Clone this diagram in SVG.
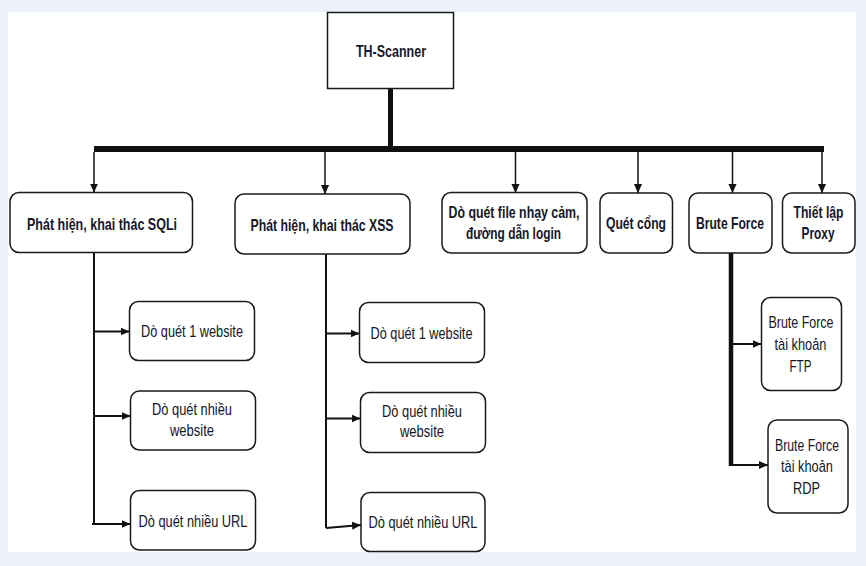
<svg xmlns="http://www.w3.org/2000/svg" width="866" height="566" viewBox="0 0 866 566">
<style>
.box{fill:#fff;stroke:#1a1a1a;stroke-width:1.5}
.t{font-family:"Liberation Sans",Arial,sans-serif;font-size:17px;fill:#161628;text-anchor:middle}
.b{font-weight:bold}
.c{fill:none;stroke:#111;stroke-width:1.5}
.c2{fill:none;stroke:#111;stroke-width:2}
</style>
<defs>
<marker id="ah" markerUnits="userSpaceOnUse" viewBox="0 0 10 10" markerWidth="9" markerHeight="10" refX="10" refY="5" orient="auto">
<path d="M0,0.5 L10,5 L0,9.5 z" fill="#111"/>
</marker>
</defs>
<rect x="0" y="0" width="866" height="566" fill="#edf1f9"/>
<rect x="8" y="12" width="848" height="540" fill="#fff"/>

<g id="connectors">
<line x1="390.5" y1="88" x2="390.5" y2="149" stroke="#111" stroke-width="5"/>
<line x1="94" y1="149" x2="824" y2="149" stroke="#111" stroke-width="6"/>
<line class="c" x1="94" y1="152" x2="94" y2="192.5" marker-end="url(#ah)"/>
<line class="c" x1="325" y1="152" x2="325" y2="194" marker-end="url(#ah)"/>
<line class="c" x1="515.5" y1="152" x2="515.5" y2="193" marker-end="url(#ah)"/>
<line class="c" x1="638" y1="152" x2="638" y2="193" marker-end="url(#ah)"/>
<line class="c" x1="732.5" y1="152" x2="732.5" y2="193" marker-end="url(#ah)"/>
<line class="c" x1="822" y1="152" x2="822" y2="193" marker-end="url(#ah)"/>
<line class="c2" x1="94" y1="252.5" x2="94" y2="525"/>
<line class="c2" x1="94" y1="331.5" x2="129.5" y2="331.5" marker-end="url(#ah)"/>
<line class="c2" x1="94" y1="416" x2="130.5" y2="416" marker-end="url(#ah)"/>
<line class="c2" x1="92" y1="524" x2="130.5" y2="524" marker-end="url(#ah)"/>
<line class="c2" x1="326" y1="254" x2="326" y2="528"/>
<line class="c2" x1="326" y1="333.5" x2="359.5" y2="333.5" marker-end="url(#ah)"/>
<line class="c2" x1="326" y1="418.5" x2="360.5" y2="418.5" marker-end="url(#ah)"/>
<line class="c2" x1="326" y1="528" x2="361" y2="525" marker-end="url(#ah)"/>
<line x1="731" y1="253" x2="731" y2="466" stroke="#111" stroke-width="4.5"/>
<line class="c2" x1="731" y1="344" x2="761.5" y2="344" marker-end="url(#ah)"/>
<line class="c2" x1="731" y1="465" x2="768" y2="465" marker-end="url(#ah)"/>
</g>

<g id="root">
<rect class="box" x="327.5" y="12.5" width="126" height="76"/>
<text class="t b" x="391" y="57" textLength="70" lengthAdjust="spacingAndGlyphs">TH-Scanner</text>
</g>

<g id="sqli">
<rect class="box" x="10" y="192.5" width="182.5" height="60" rx="9"/>
<text class="t b" x="102" y="230" textLength="150" lengthAdjust="spacingAndGlyphs">Phát hiện, khai thác SQLi</text>
</g>
<g id="xss">
<rect class="box" x="235" y="194" width="175" height="60" rx="9"/>
<text class="t b" x="322" y="231" textLength="143" lengthAdjust="spacingAndGlyphs">Phát hiện, khai thác XSS</text>
</g>
<g id="file">
<rect class="box" x="442" y="192.5" width="145" height="60.5" rx="9"/>
<text class="t b" x="514" y="218" textLength="131" lengthAdjust="spacingAndGlyphs">Dò quét file nhạy cảm,</text>
<text class="t b" x="513.5" y="238.5" textLength="95" lengthAdjust="spacingAndGlyphs">đường dẫn login</text>
</g>
<g id="port">
<rect class="box" x="600" y="193" width="72.5" height="60" rx="9"/>
<text class="t b" x="636" y="228.5" textLength="60" lengthAdjust="spacingAndGlyphs">Quét cổng</text>
</g>
<g id="brute">
<rect class="box" x="689" y="193" width="83" height="60" rx="9"/>
<text class="t b" x="730" y="228.5" textLength="68" lengthAdjust="spacingAndGlyphs">Brute Force</text>
</g>
<g id="proxy">
<rect class="box" x="782.5" y="193" width="72.5" height="60" rx="9"/>
<text class="t b" x="818.5" y="218" textLength="50" lengthAdjust="spacingAndGlyphs">Thiết lập</text>
<text class="t b" x="818" y="238.5" textLength="33" lengthAdjust="spacingAndGlyphs">Proxy</text>
</g>

<g id="sqli-1">
<rect class="box" x="129.5" y="301.5" width="125" height="59" rx="9"/>
<text class="t" x="192" y="337" textLength="102" lengthAdjust="spacingAndGlyphs">Dò quét 1 website</text>
</g>
<g id="sqli-2">
<rect class="box" x="130.5" y="391" width="125" height="59" rx="9"/>
<text class="t" x="192" y="415" textLength="80" lengthAdjust="spacingAndGlyphs">Dò quét nhiều</text>
<text class="t" x="192" y="435.5" textLength="44" lengthAdjust="spacingAndGlyphs">website</text>
</g>
<g id="sqli-3">
<rect class="box" x="130.5" y="490.5" width="125" height="59.5" rx="9"/>
<text class="t" x="193" y="526.5" textLength="109" lengthAdjust="spacingAndGlyphs">Dò quét nhiều URL</text>
</g>

<g id="xss-1">
<rect class="box" x="359.5" y="302.5" width="125" height="60" rx="9"/>
<text class="t" x="421.5" y="339" textLength="102" lengthAdjust="spacingAndGlyphs">Dò quét 1 website</text>
</g>
<g id="xss-2">
<rect class="box" x="360.5" y="392.5" width="125" height="60" rx="9"/>
<text class="t" x="422" y="416.5" textLength="80" lengthAdjust="spacingAndGlyphs">Dò quét nhiều</text>
<text class="t" x="422" y="437" textLength="44" lengthAdjust="spacingAndGlyphs">website</text>
</g>
<g id="xss-3">
<rect class="box" x="361" y="492.5" width="124" height="59" rx="9"/>
<text class="t" x="423" y="528" textLength="109" lengthAdjust="spacingAndGlyphs">Dò quét nhiều URL</text>
</g>

<g id="bf-ftp">
<rect class="box" x="761.5" y="297.5" width="80" height="93" rx="9"/>
<text class="t" x="801" y="328" textLength="65" lengthAdjust="spacingAndGlyphs">Brute Force</text>
<text class="t" x="800.5" y="349.5" textLength="52" lengthAdjust="spacingAndGlyphs">tài khoản</text>
<text class="t" x="800.5" y="371.5" textLength="22" lengthAdjust="spacingAndGlyphs">FTP</text>
</g>
<g id="bf-rdp">
<rect class="box" x="768" y="420" width="80" height="93" rx="9"/>
<text class="t" x="807" y="450.5" textLength="64" lengthAdjust="spacingAndGlyphs">Brute Force</text>
<text class="t" x="807" y="472" textLength="52" lengthAdjust="spacingAndGlyphs">tài khoản</text>
<text class="t" x="806.5" y="494" textLength="27" lengthAdjust="spacingAndGlyphs">RDP</text>
</g>
</svg>
